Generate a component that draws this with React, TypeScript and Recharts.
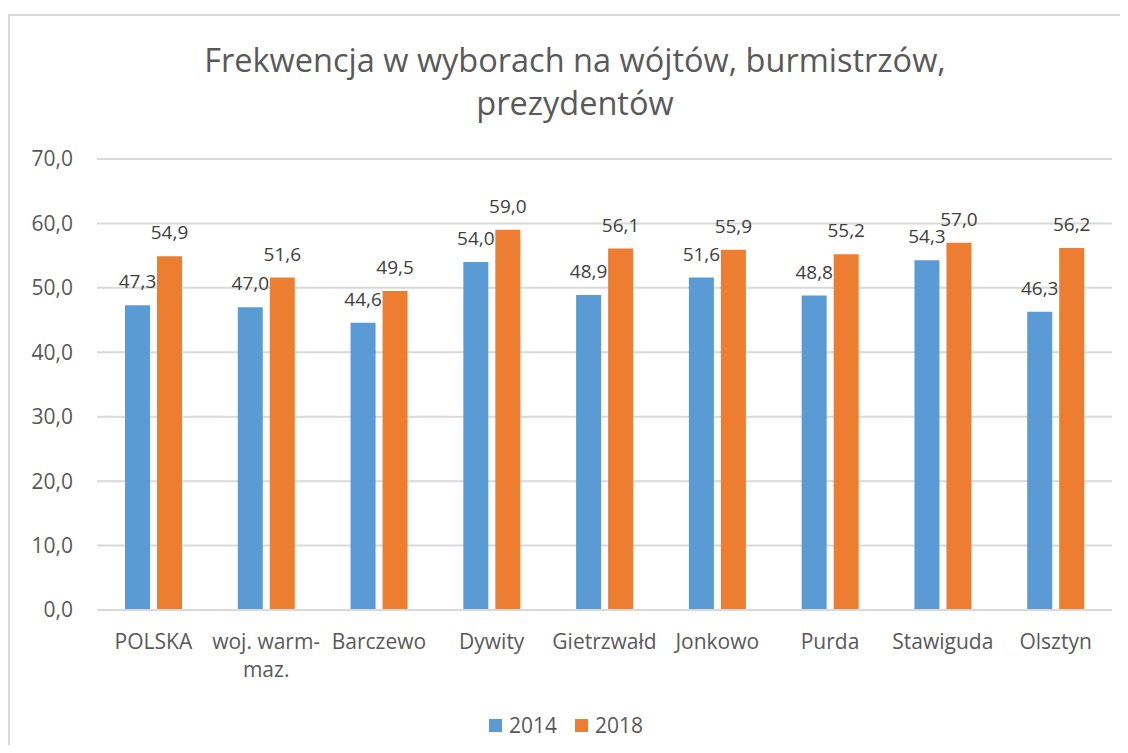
import { BarChart, Bar, XAxis, YAxis, CartesianGrid, Legend, LabelList } from 'recharts';

const categories = ['POLSKA', 'woj. warm-maz.', 'Barczewo', 'Dywity', 'Gietrzwałd', 'Jonkowo', 'Purda', 'Stawiguda', 'Olsztyn'];
const turnout2014 = [47.3, 47.0, 44.6, 54.0, 48.9, 51.6, 48.8, 54.3, 46.3];
const turnout2018 = [54.9, 51.6, 49.5, 59.0, 56.1, 55.9, 55.2, 57.0, 56.2];
const yTicks = [0, 10, 20, 30, 40, 50, 60, 70];

const BLUE = '#5b9bd5';
const ORANGE = '#ed7d31';
const FONT = '"Open Sans", sans-serif';

const data = categories.map((name, i) => ({ name, y2014: turnout2014[i], y2018: turnout2018[i] }));

const fmt = (v: number) => v.toFixed(1).replace('.', ',');

// Excel breaks the long label after the hyphen
function splitLabel(s: string): string[] {
  if (s.length > 12 && s.includes('-')) {
    const i = s.indexOf('-') + 1;
    return [s.slice(0, i), s.slice(i)];
  }
  return [s];
}

function CategoryTick(props: any) {
  const { x, y, payload } = props;
  const lines = splitLabel(payload.value);
  return (
    <text x={x} y={y} textAnchor="middle" fill="#595959" fontSize={21} fontFamily={FONT}>
      {lines.map((l, i) => (
        <tspan key={i} x={x} dy={i === 0 ? 39 : 28}>
          {l}
        </tspan>
      ))}
    </text>
  );
}

function LegendContent() {
  const items = [
    { label: '2014', color: BLUE },
    { label: '2018', color: ORANGE },
  ];
  return (
    <div style={{ display: 'flex', justifyContent: 'center', alignItems: 'center', gap: 18, fontFamily: FONT, fontSize: 21, color: '#595959', height: 24 }}>
      {items.map((it) => (
        <div key={it.label} style={{ display: 'flex', alignItems: 'center', gap: 7 }}>
          <span style={{ width: 13, height: 13, background: it.color, display: 'inline-block' }} />
          <span>{it.label}</span>
        </div>
      ))}
    </div>
  );
}

export default function App() {
  return (
    <div style={{ width: 1120, height: 737, overflow: 'hidden' }}>
      <div
        style={{
          position: 'relative',
          marginTop: 6,
          width: 1134,
          height: 760,
          borderTop: '2px solid #d9d9d9',
          borderLeft: '2px solid #d9d9d9',
          background: '#fff',
        }}
      >
        <div
          style={{
            position: 'absolute',
            top: 22,
            left: 0,
            width: 1130,
            textAlign: 'center',
            fontFamily: FONT,
            fontSize: 32.5,
            lineHeight: '43px',
            color: '#595959',
            zIndex: 1,
          }}
        >
          Frekwencja w wyborach na wójtów, burmistrzów,
          <br />
          prezydentów
        </div>
        <BarChart
          width={1130}
          height={740}
          data={data}
          margin={{ top: 143, right: 28, left: 10, bottom: 19 }}
          barSize={25}
          barGap={7}
        >
          <CartesianGrid vertical={false} stroke="#d9d9d9" strokeWidth={2} />
          <XAxis
            dataKey="name"
            interval={0}
            tickLine={false}
            tickSize={0}
            tickMargin={0}
            axisLine={{ stroke: '#d9d9d9', strokeWidth: 2 }}
            height={103}
            tick={<CategoryTick />}
          />
          <YAxis
            domain={[0, 70]}
            ticks={yTicks}
            width={77}
            axisLine={false}
            tickLine={false}
            tickSize={0}
            tickMargin={24}
            tickFormatter={fmt}
            tick={{ fill: '#595959', fontSize: 21, fontFamily: FONT }}
          />
          <Legend verticalAlign="bottom" content={<LegendContent />} />
          <Bar dataKey="y2014" name="2014" fill={BLUE} isAnimationActive={false}>
            <LabelList dataKey="y2014" position="top" offset={17} formatter={(v: any) => fmt(Number(v))} fill="#404040" fontSize={19} fontFamily={FONT} />
          </Bar>
          <Bar dataKey="y2018" name="2018" fill={ORANGE} isAnimationActive={false}>
            <LabelList dataKey="y2018" position="top" offset={17} formatter={(v: any) => fmt(Number(v))} fill="#404040" fontSize={19} fontFamily={FONT} />
          </Bar>
        </BarChart>
      </div>
    </div>
  );
}
